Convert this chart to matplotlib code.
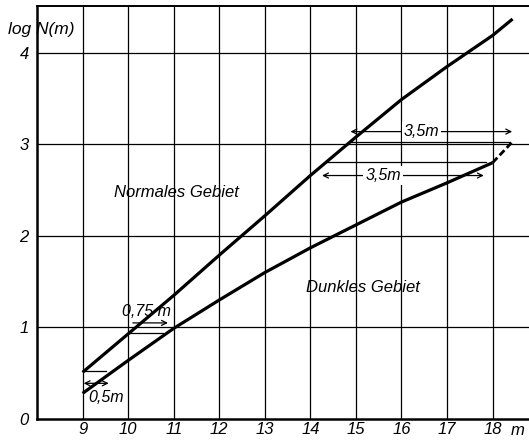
import numpy as np
import matplotlib
matplotlib.use("Agg")
import matplotlib.pyplot as plt

plt.rcParams["font.family"] = ["Liberation Sans", "DejaVu Sans"]
plt.rcParams["font.style"] = "italic"

# magnitude m and log N(m)
m_normal = [9.0, 10.0, 11.0, 12.0, 13.0, 14.0, 15.0, 16.0, 17.0, 18.0, 18.44]
logn_normal = [0.51, 0.93, 1.35, 1.79, 2.22, 2.66, 3.08, 3.49, 3.85, 4.19, 4.37]
m_dark = [9.0, 10.0, 11.0, 12.0, 13.0, 14.0, 15.0, 16.0, 17.0, 18.0]
logn_dark = [0.28, 0.64, 0.99, 1.30, 1.60, 1.87, 2.12, 2.37, 2.58, 2.80]
m_dark_ext = [18.0, 18.42]
logn_dark_ext = [2.80, 3.02]

# shifts between the two curves: log N level and shift in m
shift_levels = [0.52, 0.94, 3.03, 2.81]
shift_sizes = [0.5, 0.75, 3.5, 3.5]

x_ticks = [9, 10, 11, 12, 13, 14, 15, 16, 17, 18]
x_labels = ["9", "10", "11", "12", "13", "14", "15", "16", "17", "18"]
y_ticks = [0, 1, 2, 3, 4]

fig = plt.figure(figsize=(5.29, 4.42), dpi=100)
ax = fig.add_axes([0.070, 0.052, 0.930, 0.934])
ax.set_xlim(8, 18.8)
ax.set_ylim(0, 4.51)

for xv in x_ticks:
    ax.axvline(xv, color="black", lw=0.9, zorder=1)
for yv in y_ticks[1:]:
    ax.axhline(yv, color="black", lw=0.9, zorder=1)

ax.plot(m_normal, logn_normal, color="black", lw=2.3, solid_capstyle="butt", zorder=3)
ax.plot(m_dark, logn_dark, color="black", lw=2.3, solid_capstyle="butt", zorder=3)
ax.plot(m_dark_ext, logn_dark_ext, color="black", lw=2.0, dashes=(2.5, 1.2), zorder=3)

# horizontal connectors between the curves
for lvl, dm in zip(shift_levels, shift_sizes):
    x0 = np.interp(lvl, logn_normal, m_normal)
    ax.plot([x0, x0 + dm], [lvl, lvl], color="black", lw=0.9, zorder=2)

arrow_kw = dict(color="black", lw=0.9, mutation_scale=9)


def dim_arrow(x0, x1, y, style):
    ax.annotate("", xy=(x1, y), xytext=(x0, y),
                arrowprops=dict(arrowstyle=style, shrinkA=0, shrinkB=0, **arrow_kw), zorder=2)


# 0,5 m
x0 = np.interp(shift_levels[0], logn_normal, m_normal)
dim_arrow(x0, x0 + shift_sizes[0] + 0.05, 0.39, "<->")
ax.text(x0 + 0.5, 0.24, "0,5m", fontsize=11.5, ha="center", va="center")

# 0,75 m
x0 = np.interp(shift_levels[1], logn_normal, m_normal)
dim_arrow(x0 + 0.08, x0 + shift_sizes[1] + 0.1, 1.05, "->")
ax.text(x0 + 0.38, 1.17, "0,75 m", fontsize=11.5, ha="center", va="center")

# 3,5 m (upper)
x0 = np.interp(shift_levels[2], logn_normal, m_normal)
dim_arrow(x0, x0 + shift_sizes[2] + 0.05, 3.14, "<->")
ax.text(16.44, 3.14, "3,5m", fontsize=11.5, ha="center", va="center",
        bbox=dict(facecolor="white", edgecolor="none", pad=1.5), zorder=4)

# 3,5 m (lower)
x0 = np.interp(shift_levels[3], logn_normal, m_normal)
dim_arrow(x0 - 0.1, x0 + shift_sizes[3] - 0.05, 2.66, "<->")
ax.text(15.6, 2.66, "3,5m", fontsize=11.5, ha="center", va="center",
        bbox=dict(facecolor="white", edgecolor="none", pad=1.5), zorder=4)

ax.text(11.05, 2.47, "Normales Gebiet", fontsize=12, ha="center", va="center")
ax.text(15.15, 1.44, "Dunkles Gebiet", fontsize=12, ha="center", va="center")

ax.set_xticks(x_ticks)
ax.set_xticklabels(x_labels)
ax.set_yticks(y_ticks)
ax.tick_params(axis="x", length=0, labelsize=12, pad=2)
ax.tick_params(axis="y", length=0, labelsize=12, pad=6)
ax.text(18.55, -0.045, "m", fontsize=12, ha="center", va="top")
ax.text(8.1, 4.25, "log N(m)", fontsize=12.5, ha="center", va="center", clip_on=False)

for side in ["left", "bottom"]:
    ax.spines[side].set_linewidth(1.8)
ax.spines["top"].set_linewidth(1.4)
ax.spines["right"].set_visible(False)

fig.savefig("out.png", dpi=100)
